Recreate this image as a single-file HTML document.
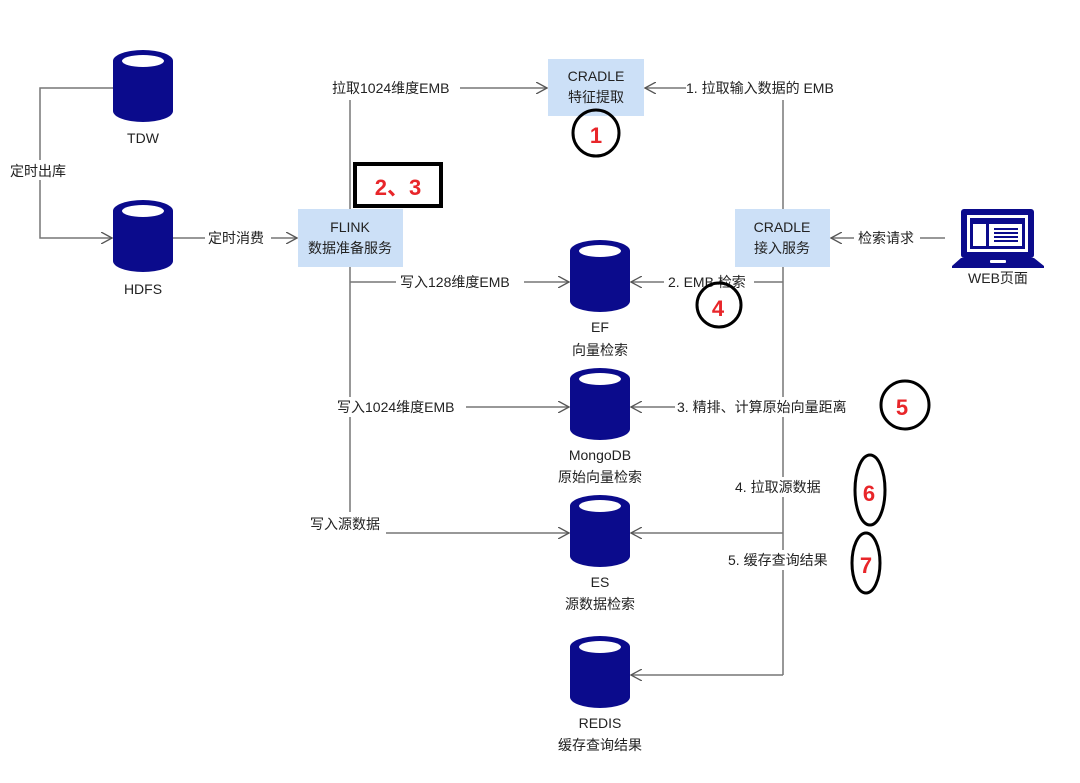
<!DOCTYPE html>
<html><head><meta charset="utf-8"><style>
body{margin:0;background:#fff}
svg text{font-family:"Liberation Sans","Noto Sans CJK SC",sans-serif;font-size:14px;fill:#222}
</style></head><body>
<svg width="1080" height="778" xmlns="http://www.w3.org/2000/svg">
<defs>
<g id="cyl">
<path d="M0,11 L0,61 A30,11 0 0 0 60,61 L60,11 A30,11 0 0 0 0,11 Z" fill="#0b0b8c"/>
<ellipse cx="30" cy="11" rx="21" ry="6" fill="#fff"/>
</g>
<marker id="ar" markerWidth="12" markerHeight="12" refX="11" refY="6" orient="auto" markerUnits="userSpaceOnUse">
<path d="M0,0 L11,6 L0,12" fill="none" stroke="#555" stroke-width="1.3"/>
</marker>
</defs>
<g stroke="#777" stroke-width="1.5" fill="none">
<!-- TDW to HDFS -->
<polyline points="113,88 40,88 40,238 112,238" marker-end="url(#ar)"/>
<line x1="173" y1="238" x2="297" y2="238" marker-end="url(#ar)"/>
<!-- FLINK vertical -->
<line x1="350" y1="100" x2="350" y2="209"/>
<line x1="350" y1="267" x2="350" y2="512"/>
<line x1="460" y1="88" x2="547" y2="88" marker-end="url(#ar)"/>
<line x1="350" y1="282" x2="569" y2="282" marker-end="url(#ar)"/>
<line x1="465" y1="407" x2="569" y2="407" marker-end="url(#ar)"/>
<line x1="372" y1="533" x2="569" y2="533" marker-end="url(#ar)"/>
<!-- CRADLE right -->
<line x1="686" y1="88" x2="645" y2="88" marker-end="url(#ar)"/>
<line x1="783" y1="100" x2="783" y2="209"/>
<line x1="783" y1="267" x2="783" y2="675"/>
<line x1="783" y1="282" x2="631" y2="282" marker-end="url(#ar)"/>
<line x1="677" y1="407" x2="631" y2="407" marker-end="url(#ar)"/>
<line x1="783" y1="533" x2="631" y2="533" marker-end="url(#ar)"/>
<line x1="783" y1="675" x2="631" y2="675" marker-end="url(#ar)"/>
<line x1="945" y1="238" x2="831" y2="238" marker-end="url(#ar)"/>
</g>
<!-- label backgrounds -->
<g fill="#fff">
<rect x="8" y="160" width="62" height="20"/>
<rect x="205" y="228" width="66" height="20"/>
<rect x="396" y="272" width="128" height="20"/>
<rect x="664" y="272" width="90" height="20"/>
<rect x="854" y="228" width="66" height="20"/>
<rect x="306" y="514" width="80" height="20"/>
<rect x="330" y="397" width="136" height="20"/>
<rect x="675" y="397" width="190" height="20"/>
<rect x="730" y="477" width="100" height="20"/>
<rect x="724" y="550" width="114" height="20"/>
</g>
<!-- boxes -->
<rect x="548" y="59" width="96" height="57" fill="#cce0f7"/>
<rect x="298" y="209" width="105" height="58" fill="#cce0f7"/>
<rect x="735" y="209" width="95" height="58" fill="#cce0f7"/>
<text x="596" y="81" text-anchor="middle">CRADLE</text>
<text x="596" y="102" text-anchor="middle">特征提取</text>
<text x="350" y="232" text-anchor="middle">FLINK</text>
<text x="350" y="253" text-anchor="middle">数据准备服务</text>
<text x="782" y="232" text-anchor="middle">CRADLE</text>
<text x="782" y="253" text-anchor="middle">接入服务</text>
<!-- cylinders -->
<use href="#cyl" x="113" y="50"/>
<use href="#cyl" x="113" y="200"/>
<use href="#cyl" x="570" y="240"/>
<use href="#cyl" x="570" y="368"/>
<use href="#cyl" x="570" y="495"/>
<use href="#cyl" x="570" y="636"/>
<g text-anchor="middle">
<text x="143" y="143">TDW</text>
<text x="143" y="294">HDFS</text>
<text x="600" y="332">EF</text>
<text x="600" y="355">向量检索</text>
<text x="600" y="460">MongoDB</text>
<text x="600" y="482">原始向量检索</text>
<text x="600" y="587">ES</text>
<text x="600" y="609">源数据检索</text>
<text x="600" y="728">REDIS</text>
<text x="600" y="750">缓存查询结果</text>
<text x="998" y="283">WEB页面</text>
</g>
<!-- labels -->
<text x="10" y="176">定时出库</text>
<text x="208" y="243">定时消费</text>
<text x="332" y="93">拉取1024维度EMB</text>
<text x="686" y="93">1. 拉取输入数据的 EMB</text>
<text x="400" y="287">写入128维度EMB</text>
<text x="668" y="287">2. EMB 检索</text>
<text x="858" y="243">检索请求</text>
<text x="337" y="412">写入1024维度EMB</text>
<text x="677" y="412">3. 精排、计算原始向量距离</text>
<text x="310" y="529">写入源数据</text>
<text x="735" y="492">4. 拉取源数据</text>
<text x="728" y="565">5. 缓存查询结果</text>
<!-- laptop -->
<rect x="961" y="209" width="73" height="49" rx="3" fill="#0b0b8c"/>
<rect x="967" y="215" width="61" height="37" fill="#fff"/>
<rect x="970" y="218" width="55" height="6" fill="#0b0b8c"/>
<rect x="970" y="224" width="3" height="25" fill="#0b0b8c"/>
<rect x="986" y="224" width="3" height="25" fill="#0b0b8c"/>
<rect x="970" y="246" width="55" height="3" fill="#0b0b8c"/>
<rect x="1022" y="224" width="3" height="25" fill="#0b0b8c"/>
<g fill="#0b0b8c"><rect x="994" y="228" width="24" height="2"/><rect x="994" y="232" width="24" height="2"/><rect x="994" y="236" width="24" height="2"/><rect x="994" y="240" width="24" height="2"/></g>
<path d="M961,258 L1034,258 L1044,266 L1044,268 L952,268 L952,266 Z" fill="#0b0b8c"/>
<rect x="990" y="260" width="16" height="3" rx="1" fill="#fff"/>
<!-- annotations -->
<g fill="none" stroke="#000" stroke-width="3">
<rect x="355" y="164" width="86" height="42" stroke-width="4"/>
<circle cx="596" cy="133" r="23"/>
<circle cx="719" cy="305" r="22"/>
<circle cx="905" cy="405" r="24"/>
<ellipse cx="870" cy="490" rx="15" ry="35"/>
<ellipse cx="866" cy="563" rx="14" ry="30"/>
</g>
<g fill="#e8262a" font-weight="bold" style="font-size:22px" text-anchor="middle">
<text x="596" y="143" style="font-size:22px;fill:#e8262a;font-weight:bold">1</text>
<text x="398" y="195" style="font-size:22px;fill:#e8262a;font-weight:bold">2、3</text>
<text x="718" y="316" style="font-size:22px;fill:#e8262a;font-weight:bold">4</text>
<text x="902" y="415" style="font-size:22px;fill:#e8262a;font-weight:bold">5</text>
<text x="869" y="501" style="font-size:22px;fill:#e8262a;font-weight:bold">6</text>
<text x="866" y="573" style="font-size:22px;fill:#e8262a;font-weight:bold">7</text>
</g>
</svg>
</body></html>
